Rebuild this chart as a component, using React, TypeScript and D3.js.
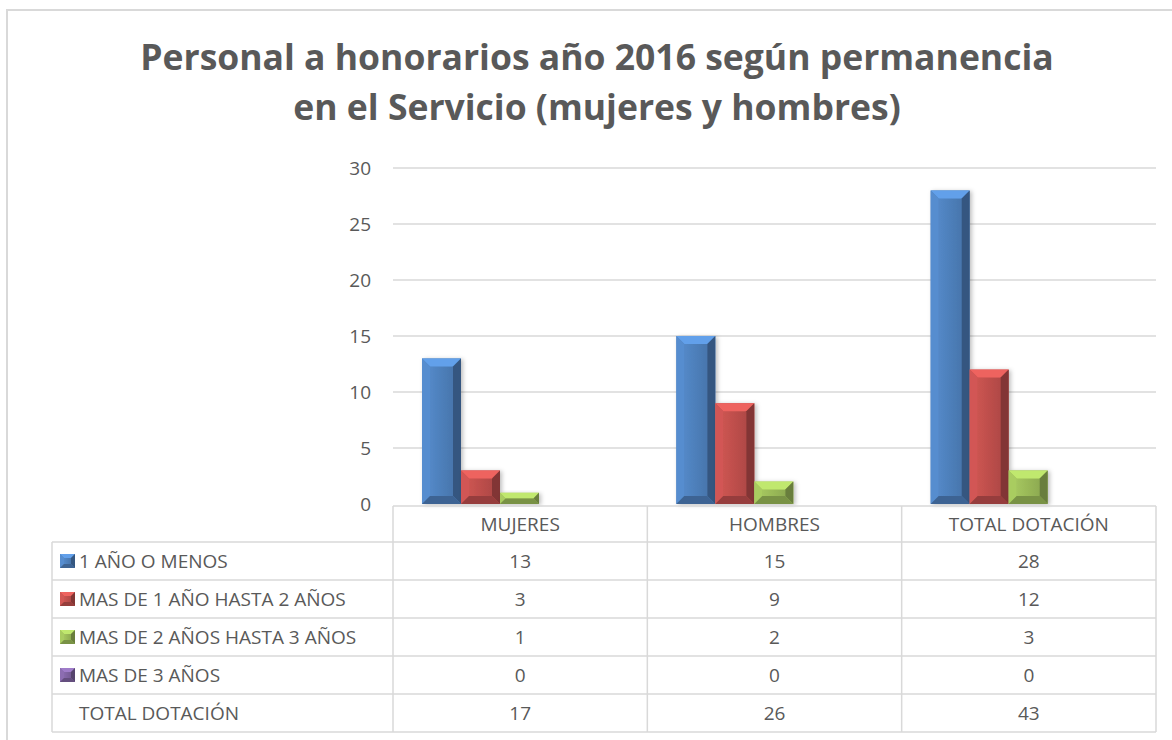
import { useMemo } from "react";
import * as d3 from "d3";

const categories = ["MUJERES", "HOMBRES", "TOTAL DOTACIÓN"];
const seriesNames = [
  "1 AÑO O MENOS",
  "MAS DE 1 AÑO HASTA 2 AÑOS",
  "MAS DE 2 AÑOS HASTA 3 AÑOS",
  "MAS DE 3 AÑOS",
];
const unoOMenos = [13, 15, 28];
const unoADos = [3, 9, 12];
const dosATres = [1, 2, 3];
const masDeTres = [0, 0, 0];
const totalDotacion = [17, 26, 43];
const yTicks = [0, 5, 10, 15, 20, 25, 30];
const seriesColors = ["#4F81BD", "#C0504D", "#9BBB59", "#8064A2"];

const W = 1172;
const H = 740;
const font = "'Open Sans', sans-serif";
const textColor = "#595959";
const lineColor = "#D9D9D9";

interface BevelProps {
  x: number;
  y: number;
  w: number;
  h: number;
  color: string;
  bevel: number;
}

// beveled box like Excel's 3D "angle" bars
const BevelBox = ({ x, y, w, h, color, bevel }: BevelProps) => {
  if (h <= 0) return null;
  const b = Math.min(bevel, w / 2, h / 2);
  const c = d3.color(color)!;
  const light = c.brighter(0.6).formatHex();
  const lighter = c.brighter(0.25).formatHex();
  const dark = c.darker(0.7).formatHex();
  const darker = c.darker(1.1).formatHex();
  const pts = (arr: number[][]) => arr.map((p) => p.join(",")).join(" ");
  return (
    <g>
      <rect x={x} y={y} width={w} height={h} fill={color} />
      <rect
        x={x + b}
        y={y + b}
        width={w - 2 * b}
        height={Math.max(0, h - 2 * b)}
        fill={`url(#grad-${color.slice(1)})`}
      />
      <polygon
        points={pts([[x, y], [x + w, y], [x + w - b, y + b], [x + b, y + b]])}
        fill={light}
      />
      <polygon
        points={pts([[x, y], [x + b, y + b], [x + b, y + h - b], [x, y + h]])}
        fill={lighter}
      />
      <polygon
        points={pts([[x + w, y], [x + w, y + h], [x + w - b, y + h - b], [x + w - b, y + b]])}
        fill={darker}
      />
      <polygon
        points={pts([[x, y + h], [x + b, y + h - b], [x + w - b, y + h - b], [x + w, y + h]])}
        fill={dark}
      />
    </g>
  );
};

const App = () => {
  const values = [unoOMenos, unoADos, dosATres, masDeTres];

  const plotLeft = 393;
  const plotRight = 1156;
  const tableLeft = 52;
  const headerTop = 506;
  const rowH = 38;

  const x = useMemo(
    () => d3.scaleBand<string>().domain(categories).range([plotLeft, plotRight]).padding(0),
    []
  );
  const y = useMemo(() => d3.scaleLinear().domain([0, 30]).range([504, 168]), []);
  const xInner = useMemo(
    () => d3.scaleBand<string>().domain(seriesNames).range([29, 29 + 4 * 39]).padding(0),
    []
  );

  const rows = [
    ...seriesNames.map((name, i) => ({ name, vals: values[i], color: seriesColors[i] })),
    { name: "TOTAL DOTACIÓN", vals: totalDotacion, color: null as string | null },
  ];
  const tableBottom = headerTop + 36 + rows.length * rowH;
  const fs = 19;

  return (
    <svg
      width={W}
      height={H}
      style={{ position: "absolute", left: 0, top: 0, background: "#fff" }}
      fontFamily={font}
    >
      <defs>
        {seriesColors.map((c) => {
          const col = d3.color(c)!;
          return (
            <linearGradient key={c} id={`grad-${c.slice(1)}`} x1="0" x2="1" y1="0" y2="0">
              <stop offset="0%" stopColor={col.brighter(0.15).formatHex()} />
              <stop offset="100%" stopColor={col.darker(0.25).formatHex()} />
            </linearGradient>
          );
        })}
        <filter id="shadow" x="-20%" y="-20%" width="140%" height="140%">
          <feDropShadow dx="2" dy="1" stdDeviation="2" floodColor="#000" floodOpacity="0.25" />
        </filter>
      </defs>

      <rect x={7} y={10} width={W + 10} height={H + 10} fill="#fff" stroke={lineColor} strokeWidth={2} />

      <text x={597} y={70} textAnchor="middle" fontSize={35.5} fontWeight="bold" fill={textColor}>
        Personal a honorarios año 2016 según permanencia
      </text>
      <text x={597} y={120} textAnchor="middle" fontSize={35.5} fontWeight="bold" fill={textColor}>
        en el Servicio (mujeres y hombres)
      </text>

      {yTicks.map((t) => (
        <g key={t}>
          {t > 0 && (
            <line x1={plotLeft} x2={plotRight} y1={y(t)} y2={y(t)} stroke={lineColor} strokeWidth={1.5} />
          )}
          <text x={371} y={y(t)} dy="0.35em" textAnchor="end" fontSize={fs} fill={textColor}>
            {t}
          </text>
        </g>
      ))}

      {categories.map((cat, ci) => (
        <g key={cat}>
          {seriesNames.map((s, si) => {
            const v = values[si][ci];
            const x0 = (x(cat) as number) + (xInner(s) as number);
            return (
              <g key={s} filter="url(#shadow)">
                <BevelBox
                  x={x0}
                  y={y(v)}
                  w={xInner.bandwidth()}
                  h={y(0) - y(v)}
                  color={seriesColors[si]}
                  bevel={8}
                />
              </g>
            );
          })}
        </g>
      ))}

      {/* data table */}
      <g stroke={lineColor} strokeWidth={1.5} fill="none">
        <line x1={plotLeft} x2={plotRight} y1={headerTop} y2={headerTop} />
        <line x1={tableLeft} x2={plotRight} y1={headerTop + 36} y2={headerTop + 36} />
        {rows.map((_, i) => (
          <line
            key={i}
            x1={tableLeft}
            x2={plotRight}
            y1={headerTop + 36 + (i + 1) * rowH}
            y2={headerTop + 36 + (i + 1) * rowH}
          />
        ))}
        <line x1={tableLeft} x2={tableLeft} y1={headerTop + 36} y2={tableBottom} />
        {categories.map((cat) => (
          <line key={cat} x1={x(cat)} x2={x(cat)} y1={headerTop} y2={tableBottom} />
        ))}
        <line x1={plotRight} x2={plotRight} y1={headerTop} y2={tableBottom} />
      </g>

      {categories.map((cat) => (
        <text
          key={cat}
          x={(x(cat) as number) + x.bandwidth() / 2}
          y={headerTop + 18}
          dy="0.35em"
          textAnchor="middle"
          fontSize={fs}
          fill={textColor}
        >
          {cat}
        </text>
      ))}

      {rows.map((row, i) => {
        const cy = headerTop + 36 + i * rowH + rowH / 2;
        return (
          <g key={row.name + i}>
            {row.color && (
              <BevelBox x={60} y={cy - 7} w={15} h={14} color={row.color} bevel={4} />
            )}
            <text x={79} y={cy} dy="0.35em" fontSize={fs} fill={textColor}>
              {row.name}
            </text>
            {row.vals.map((v, ci) => (
              <text
                key={ci}
                x={(x(categories[ci]) as number) + x.bandwidth() / 2}
                y={cy}
                dy="0.35em"
                textAnchor="middle"
                fontSize={fs}
                fill={textColor}
              >
                {v}
              </text>
            ))}
          </g>
        );
      })}
    </svg>
  );
};

export default App;
